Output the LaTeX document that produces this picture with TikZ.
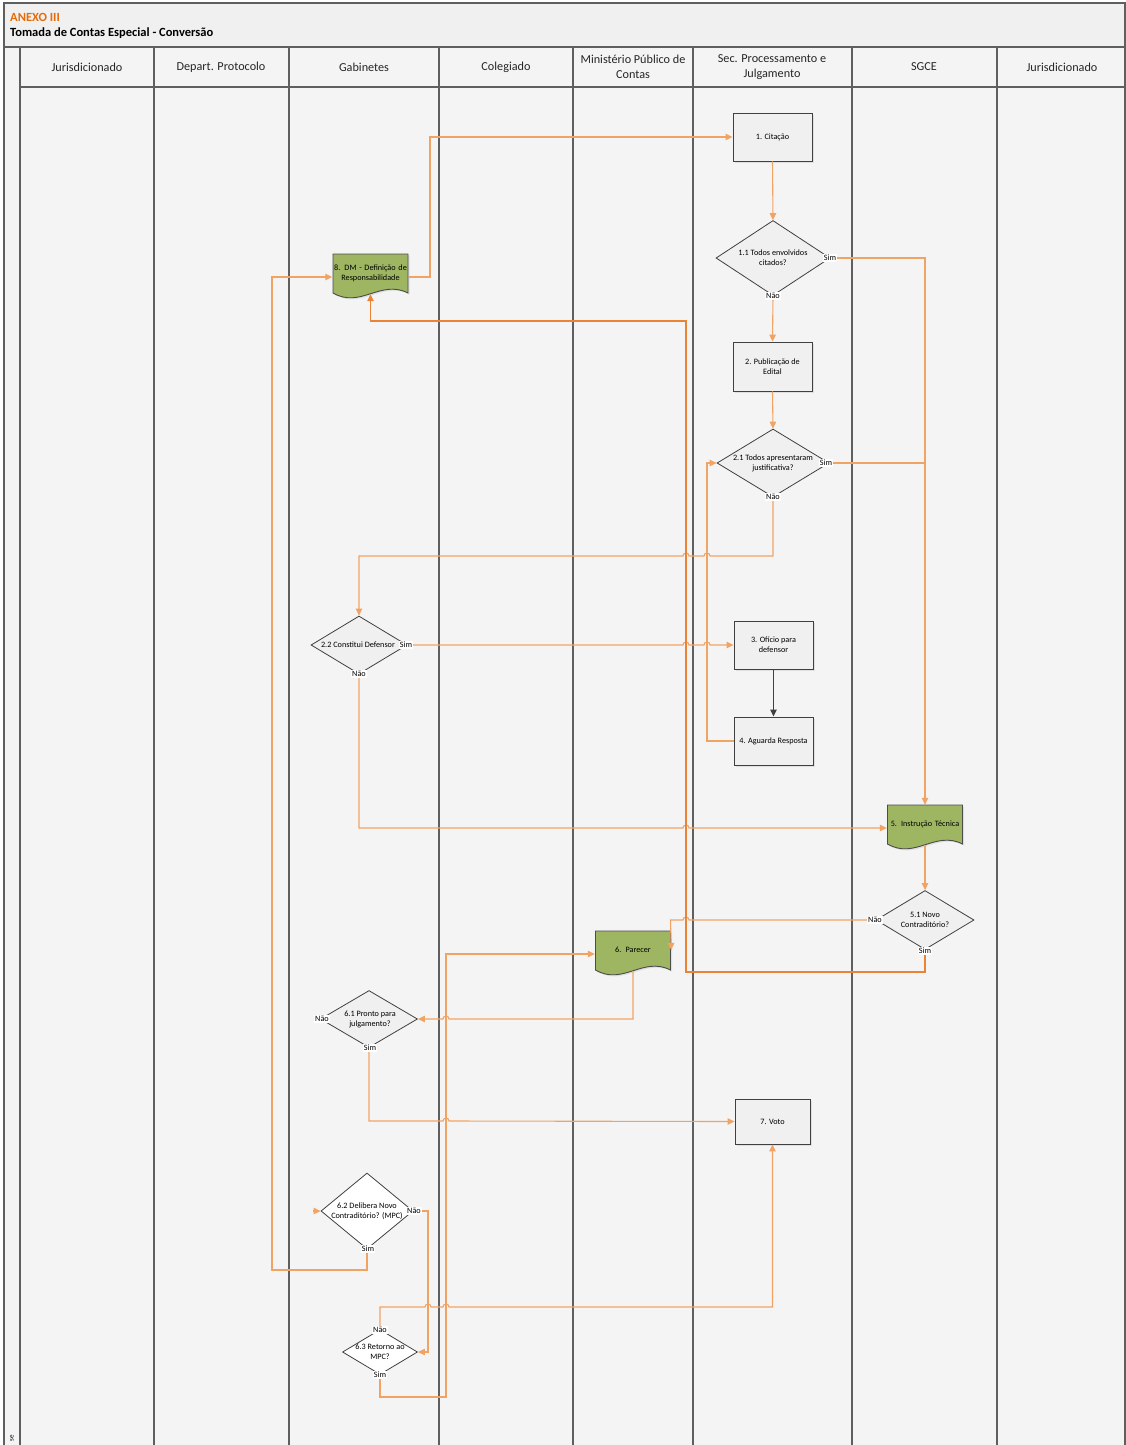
\documentclass[tikz,border=0pt]{standalone}
\usepackage{fontspec}
\setmainfont{Carlito}
\usetikzlibrary{shapes.geometric,arrows.meta,shadows}
\definecolor{lanegray}{RGB}{95,95,95}
\definecolor{poolbg}{RGB}{244,244,244}
\definecolor{titlebg}{RGB}{240,240,240}
\definecolor{boxgray}{RGB}{240,240,240}
\definecolor{docgreen}{RGB}{158,182,98}
\definecolor{flowline}{RGB}{241,163,100}
\definecolor{backorange}{RGB}{234,132,52}
\definecolor{anexo}{RGB}{228,108,10}

% green document shape, centre x / y
\newcommand{\docshape}[2]{%
\draw[draw=black!70, fill=docgreen, line width=0.9pt, drop shadow={shadow xshift=1.5pt, shadow yshift=-1.5pt, fill=black!20}]
  ({#1-37.5},{#2-22}) -- ({#1+37.5},{#2-22}) -- ({#1+37.5},{#2+17})
  .. controls ({#1+10},{#2+3}) and ({#1-10},{#2+33}) .. ({#1-37.5},{#2+17}) -- cycle;}

\begin{document}
\begin{tikzpicture}[x=1pt,y=-1pt,
  lane/.style={draw=lanegray, line width=1.2pt},
  lanehead/.style={font=\fontsize{12.2}{15}\selectfont, align=center, text=black!85},
  procbox/.style={draw=black!75, fill=boxgray, line width=0.9pt, minimum width=79pt, minimum height=48pt, inner sep=2pt, align=center, font=\fontsize{8.2}{10}\selectfont, drop shadow={shadow xshift=1.5pt, shadow yshift=-1.5pt, fill=black!20}},
  decision/.style={diamond, draw=black!75, fill=boxgray, line width=0.8pt, inner sep=0pt},
  dectext/.style={font=\fontsize{8.2}{10}\selectfont, align=center, inner sep=0pt},
  docbox/.style={minimum width=75pt, minimum height=38pt, inner sep=1pt, align=center, text width=74pt, font=\fontsize{8.2}{10}\selectfont},
  answer/.style={fill=white, inner sep=1pt, font=\fontsize{8.2}{9}\selectfont},
  flow/.style={draw=flowline, line width=1.1pt, -{Triangle[length=7pt,width=6.5pt]}},
  backflow/.style={flow, draw=backorange},
  darkflow/.style={draw=black!75, line width=1.3pt, -{Triangle[length=7pt,width=6.5pt]}},
  hopl/.style={insert path={arc[start angle=0,end angle=180,radius=3pt]}},
  hopr/.style={insert path={arc[start angle=180,end angle=0,radius=3pt]}}]
\useasboundingbox (0,0) rectangle (1126,1445);

% Pool and lanes
\fill[poolbg] (4,3) rectangle (1125,1445);
\fill[titlebg] (4,3) rectangle (1125,47);
\draw[lane] (4,1445) -- (4,3) -- (1125,3) -- (1125,1445);
\draw[lane] (4,47) -- (1125,47);
\draw[lane] (20,87) -- (1125,87);
\foreach \x in {20,154,289,439,573,693,852,997}
  \draw[lane] (\x,47) -- (\x,1445);

\node[anchor=west, inner sep=0pt, text=anexo, font=\bfseries\fontsize{12.5}{14}\selectfont] (anexo) at (10,17) {ANEXO III};
\node[anchor=west, inner sep=0pt, font=\bfseries\fontsize{12.5}{14}\selectfont] (titulo) at (10,33) {Tomada de Contas Especial - Conversão};
\node[rotate=90, inner sep=0pt, font=\fontsize{7}{8}\selectfont] (fase) at (12,1438) {se};

\foreach \cx/\name [count=\i] in {87/Jurisdicionado, 221/Depart. Protocolo, 364/Gabinetes, 506/Colegiado,
    633/{Ministério Público de\\Contas}, 772/{Sec. Processamento e\\Julgamento}, 924/SGCE, 1062/Jurisdicionado}
  \node[lanehead] (lane\i) at (\cx,67) {\name};

% Process boxes
\node[procbox] (cit) at (772.5,137) {1. Citação};
\node[procbox, minimum height=49pt] (pub) at (772.5,366.5) {2. Publicação de\\Edital};
\node[procbox] (ofi) at (773.5,645) {3. Ofício para\\defensor};
\node[procbox] (agu) at (773.5,741) {4. Aguarda Resposta};
\node[procbox, minimum width=75pt, minimum height=45pt] (voto) at (772.5,1121.5) {7. Voto};

% Documents
\docshape{370.5}{276}
\node[docbox] (dm) at (370.5,273) {8. DM - Definição de\\Responsabilidade};
\docshape{925}{827}
\node[docbox] (instr) at (925,824) {5. Instrução Técnica};
\docshape{633}{953}
\node[docbox] (parecer) at (633,950) {6. Parecer};

% Decisions
\node[decision, minimum width=114pt, minimum height=75pt] (d11) at (773,258) {};
\node[dectext] (d11txt) at (773,258) {1.1 Todos envolvidos\\citados?};
\node[decision, minimum width=112pt, minimum height=68pt] (d21) at (773,463) {};
\node[dectext] (d21txt) at (773,463) {2.1 Todos apresentaram\\justificativa?};
\node[decision, minimum width=96pt, minimum height=58pt] (d22) at (359,645) {};
\node[dectext] (d22txt) at (358,645) {2.2 Constitui Defensor};
\node[decision, minimum width=98pt, minimum height=59pt] (d51) at (925,920) {};
\node[dectext] (d51txt) at (925,920) {5.1 Novo\\Contraditório?};
\node[decision, minimum width=97pt, minimum height=57pt] (d61) at (369,1019) {};
\node[dectext] (d61txt) at (370,1019) {6.1 Pronto para\\julgamento?};
\node[decision, fill=white, minimum width=92pt, minimum height=76pt] (d62) at (367,1211) {};
\node[dectext] (d62txt) at (367,1211) {6.2 Delibera Novo\\Contraditório? (MPC)};
\node[decision, fill=white, minimum width=75pt, minimum height=45pt] (d63) at (380,1352) {};
\node[dectext] (d63txt) at (380,1352) {6.3 Retorno ao\\MPC?};

% Connectors
\coordinate (merge) at (925,463);
\coordinate (stub) at (313,1211);
\draw[flow] ([yshift=-4pt]dm.east) -- (430,277) |- (cit.west);
\draw[flow] (cit.south) -- (d11.north);
\draw[flow] (d11.east) -| (instr.north);
\draw[flow] (d11.south) -- (pub.north);
\draw[flow] (pub.south) -- (d21.north);
\draw[draw=flowline, line width=1.1pt] (d21.east) -- (merge);
\draw[flow] (d21.south) -- (773,556) -- (710,556) [hopl] -- (689,556) [hopl] -- (359,556) -- (d22.north);
\draw[flow] (d22.east) -- (683,645) [hopr] -- (704,645) [hopr] -- (ofi.west);
\draw[darkflow] (ofi.south) -- (agu.north);
\draw[flow] (agu.west) -- (707,741) |- (d21.west);
\draw[flow] (d22.south) -- (359,828) -- (683,828) [hopr] -- ([yshift=-4pt]instr.west);
\draw[flow] ([yshift=-2pt]instr.south) -- (d51.north);
\draw[flow] (d51.west) -- (689,920) [hopl] -- (670.5,920) -- (parecer.east);
\draw[backflow] (d51.south) -- (925,972) -- (686,972) -- (686,321) -| ([yshift=-2pt]dm.south);
\draw[flow] ([yshift=-2pt]parecer.south) -- (633,1019) -- (449,1019) [hopl] -- (d61.east);
\draw[flow] (d61.south) -- (369,1121) -- (443,1121) [hopr] -- (voto.west);
\draw[flow] (d62.south) -- (367,1270) -| (272,277) -- ([yshift=-4pt]dm.west);
\draw[flow] (stub) -- (d62.west);
\draw[flow] (d62.east) -- (428,1211) |- (d63.east);
\draw[flow] (d63.north) -- (380,1307) -- (425,1307) [hopr] -- (443,1307) [hopr] -- (772.5,1307) -- (voto.south);
\draw[flow] (d63.south) -- (380,1397) -- (446,1397) |- ([yshift=-4pt]parecer.west);

% Answers
\node[answer] (d11sim) at (830,258) {Sim};
\node[answer] (d11nao) at (773,296) {Não};
\node[answer] (d21sim) at (826,463) {Sim};
\node[answer] (d21nao) at (773,497) {Não};
\node[answer] (d22sim) at (406,645) {Sim};
\node[answer] (d22nao) at (359,674) {Não};
\node[answer] (d51nao) at (875,920) {Não};
\node[answer] (d51sim) at (925,951) {Sim};
\node[answer] (d61nao) at (322,1019) {Não};
\node[answer] (d61sim) at (370,1048) {Sim};
\node[answer] (d62nao) at (414,1211) {Não};
\node[answer] (d62sim) at (368,1249) {Sim};
\node[answer] (d63nao) at (380,1330) {Não};
\node[answer] (d63sim) at (380,1375) {Sim};
\end{tikzpicture}
\end{document}
